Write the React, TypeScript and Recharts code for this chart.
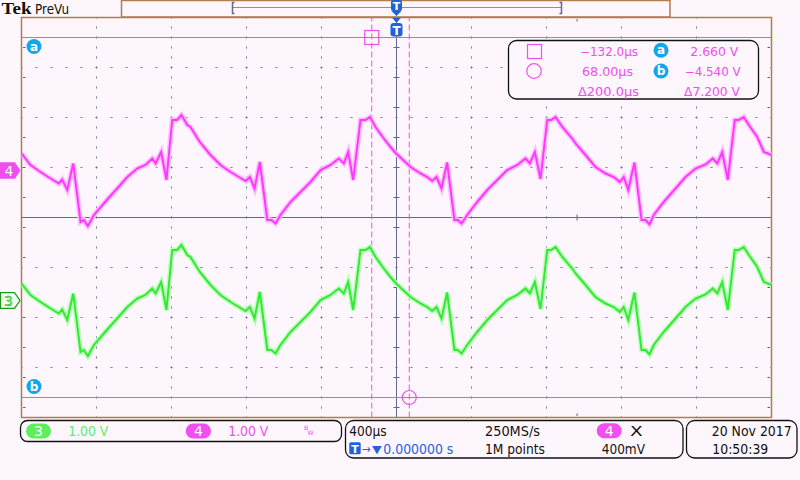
import React from "react";
import {
  LineChart,
  Line,
  XAxis,
  YAxis,
  CartesianGrid,
  ReferenceLine,
  ReferenceDot,
  ReferenceArea,
} from "recharts";

// sample times in µs from the trigger point
const timeUs = [
  -2000, -1952, -1899, -1845, -1801, -1783, -1756, -1724, -1685, -1668, -1646, -1614, -1545, -1490,
  -1436, -1383, -1339, -1303, -1285, -1255, -1227, -1196, -1170, -1147, -1116, -1099, -1049, -992,
  -939, -885, -841, -805, -782, -757, -729, -689, -668, -645, -619, -565, -512, -459, -405, -352,
  -308, -281, -258, -231, -192, -165, -142, -112, -68, -32, -5, 75, 128, 164, 190, 213, 240, 270,
  309, 327, 347, 377, 430, 484, 537, 590, 644, 688, 711, 738, 768, 804, 825, 848, 884, 937, 955,
  1008, 1061, 1115, 1159, 1191, 1212, 1236, 1269, 1307, 1328, 1349, 1372, 1425, 1488, 1541, 1595,
  1648, 1687, 1711, 1737, 1767, 1804, 1825, 1852, 1879, 1924, 1959, 2000,
];

// channel 4 (magenta), volts
const ch4Volts = [
  0.34, 0.11, -0.03, -0.16, -0.26, -0.18, -0.39, 0.14, -1.03, -0.99, -1.11, -0.89, -0.59, -0.36,
  -0.13, 0.04, 0.11, 0.24, 0.14, 0.37, -0.19, 1.01, 1.01, 1.11, 0.91, 0.87, 0.57, 0.31,
  0.11, -0.03, -0.13, -0.21, -0.13, -0.36, 0.17, -0.99, -0.99, -1.06, -0.89, -0.63, -0.43, -0.23, 0.01, 0.11,
  0.24, 0.14, 0.37, -0.19, 1.01, 1.01, 1.07, 0.87, 0.64, 0.47, 0.35, 0.07, -0.06, -0.13, -0.21, -0.13, -0.36, 0.16,
  -0.99, -0.99, -1.06, -0.89, -0.63, -0.39, -0.19, 0.01, 0.11, 0.24, 0.14, 0.37, -0.17, 1.01, 1.01, 1.07, 0.87, 0.64, 0.54,
  0.31, 0.07, -0.06, -0.13, -0.23, -0.13, -0.39, 0.16, -0.99, -0.99, -1.08, -0.89, -0.63, -0.36, -0.13, 0.04,
  0.12, 0.24, 0.14, 0.37, -0.19, 1.01, 1.01, 1.07, 0.91, 0.67, 0.37, 0.31,
];

// channel 3 (green), volts
const ch3Volts = [
  0.34, 0.11, -0.03, -0.16, -0.26, -0.18, -0.39, 0.14, -1.03, -0.99, -1.11, -0.89, -0.59, -0.36,
  -0.13, 0.04, 0.11, 0.24, 0.14, 0.37, -0.19, 1.01, 1.01, 1.11, 0.91, 0.87, 0.57, 0.31,
  0.11, -0.03, -0.13, -0.21, -0.13, -0.36, 0.17, -0.99, -0.99, -1.06, -0.89, -0.63, -0.43, -0.23, 0.01, 0.11,
  0.24, 0.14, 0.37, -0.19, 1.01, 1.01, 1.07, 0.87, 0.64, 0.47, 0.35, 0.07, -0.06, -0.13, -0.21, -0.13, -0.36, 0.16,
  -0.99, -0.99, -1.06, -0.89, -0.63, -0.39, -0.19, 0.01, 0.11, 0.24, 0.14, 0.37, -0.17, 1.01, 1.01, 1.07, 0.87, 0.64, 0.54,
  0.31, 0.07, -0.06, -0.13, -0.23, -0.13, -0.39, 0.16, -0.99, -0.99, -1.08, -0.89, -0.63, -0.36, -0.13, 0.04,
  0.12, 0.24, 0.14, 0.37, -0.19, 1.01, 1.01, 1.07, 0.91, 0.67, 0.37, 0.31,
];

// graticule: 10 x 8 divisions, 5 minor steps each
const timeDivTicks = [-2000, -1600, -1200, -800, -400, 0, 400, 800, 1200, 1600, 2000];
const voltDivTicks = [-4, -3, -2, -1, 0, 1, 2, 3, 4];
const timeMinorTicks = Array.from({ length: 51 }, (_, i) => -2000 + i * 80);
const voltMinorTicks = Array.from({ length: 41 }, (_, i) => Math.round((-4 + i * 0.2) * 10) / 10);

// ground markers, divisions above screen centre (1 V/div on both)
const ch4Offset = 0.94;
const ch3Offset = -1.66;

const cursorTimes = [-132, 68];
const cursorVolts = [2.66, -4.54];

const BG = "#fdf7fd";
const BORDER = "#b17d4c";
const GRID = "#58628a";
const CENTER = "#5f6a8c";
const MAG = "#f04ef0";
const MAG_TRACE = "#ff38ff";
const MAG_HALO = "#ffbcff";
const GREEN_TRACE = "#34e834";
const GREEN_HALO = "#baffba";
const GREEN_TXT = "#5cf05c";
const CYAN = "#13a6ea";
const BLUE = "#1f63d8";
const FONT = "'DejaVu Sans', 'Liberation Sans', sans-serif";

const data = timeUs.map((t, i) => ({ t, ch4: ch4Volts[i], ch3: ch3Volts[i] }));

function Txt({ x, y, w, size = 13, fill = "#111", anchor = "start", weight = 400, family = FONT, children }: any) {
  return (
    <text
      x={x}
      y={y}
      fontSize={size}
      fill={fill}
      textAnchor={anchor}
      fontWeight={weight}
      fontFamily={family}
      textLength={w}
      lengthAdjust="spacingAndGlyphs"
    >
      {children}
    </text>
  );
}

function Pill({ x, y, w, h, fill, label }: any) {
  return (
    <g>
      <rect x={x} y={y} width={w} height={h} rx={h / 2} fill={fill} />
      <text x={x + w / 2} y={y + h - 2.5} fontSize={14} fill="#fff" textAnchor="middle" fontFamily={FONT}>
        {label}
      </text>
    </g>
  );
}

function Badge({ cx, cy, label }: any) {
  return (
    <g>
      <circle cx={cx} cy={cy} r={7.5} fill={CYAN} />
      <text x={cx} y={cy + 4} fontSize={12} fontWeight={700} fill="#fff" textAnchor="middle" fontFamily={FONT}>
        {label}
      </text>
    </g>
  );
}

function TMark({ x, y }: any) {
  return (
    <g>
      <path d={`M${x - 5} ${y} L${x + 5} ${y} L${x} ${y + 6} Z`} fill={BLUE} />
      <rect x={x - 6} y={y + 6} width={12} height={13.5} rx={3} fill={BLUE} />
      <text x={x} y={y + 17.5} fontSize={12} fontWeight={700} fill="#fff" textAnchor="middle" fontFamily={FONT}>
        T
      </text>
    </g>
  );
}

function Overlay() {
  return (
    <svg width={800} height={480} style={{ position: "absolute", left: 0, top: 0, pointerEvents: "none" }}>
      {/* top bar */}
      <Txt x={1.5} y={14} w={30} size={17} weight={700} family="'Liberation Serif', serif">Tek</Txt>
      <Txt x={35} y={14} w={34} size={14}>PreVu</Txt>
      <rect x={121.5} y={0.5} width={548.5} height={16.5} fill="none" stroke={BORDER} strokeWidth={1.5} />
      <line x1={233} x2={561} y1={7.5} y2={7.5} stroke={MAG} />
      <path d="M234.5 2.5 H232.5 V13.5 H234.5" fill="none" stroke={CENTER} strokeWidth={1.5} />
      <path d="M559.5 2.5 H561.5 V13.5 H559.5" fill="none" stroke={CENTER} strokeWidth={1.5} />
      <rect x={391} y={0} width={11} height={11} rx={2} fill={BLUE} />
      <text x={396.5} y={10} fontSize={11} fontWeight={700} fill="#fff" textAnchor="middle" fontFamily={FONT}>T</text>
      <path d="M391.5 11 L401.5 11 L396.5 16 Z" fill={BLUE} />

      {/* cursor readout */}
      <rect x={508.5} y={40.5} width={250} height={58.5} rx={8} fill={BG} stroke="#111" strokeWidth={1.3} />
      <rect x={527.5} y={44.5} width={14} height={14} fill="none" stroke={MAG} strokeWidth={1.2} />
      <circle cx={534} cy={71} r={7.3} fill="none" stroke={MAG} strokeWidth={1.2} />
      <Txt x={638} y={55.7} w={58} size={12} fill={MAG} anchor="end">−132.0µs</Txt>
      <Txt x={633} y={75.7} w={51} size={12} fill={MAG} anchor="end">68.00µs</Txt>
      <Txt x={639} y={95.7} w={61} size={12} fill={MAG} anchor="end">Δ200.0µs</Txt>
      <Badge cx={661} cy={50.3} label="a" />
      <Badge cx={661} cy={71} label="b" />
      <Txt x={738.3} y={55.7} w={48} size={12} fill={MAG} anchor="end">2.660 V</Txt>
      <Txt x={740.7} y={75.7} w={56} size={12} fill={MAG} anchor="end">−4.540 V</Txt>
      <Txt x={740} y={95.7} w={56} size={12} fill={MAG} anchor="end">Δ7.200 V</Txt>

      {/* vertical settings */}
      <rect x={20.5} y={420.5} width={321} height={21} rx={7} fill="none" stroke="#111" strokeWidth={1.3} />
      <Pill x={26} y={423.5} w={25} h={15} fill={GREEN_TXT} label="3" />
      <Txt x={68.3} y={436} w={40} size={14} fill={GREEN_TXT}>1.00 V</Txt>
      <Pill x={185.7} y={423.5} w={25.3} h={15} fill={MAG} label="4" />
      <Txt x={228.3} y={436} w={40} size={14} fill={MAG}>1.00 V</Txt>
      <Txt x={304} y={429.5} w={4.5} size={6} fill={MAG}>B</Txt>
      <Txt x={307.5} y={435} w={6} size={6} fill={MAG}>W</Txt>

      {/* horizontal / trigger */}
      <rect x={345.5} y={420.5} width={337.5} height={37.5} rx={8} fill="none" stroke="#111" strokeWidth={1.3} />
      <Txt x={349.3} y={435.5} w={37.3} size={14}>400µs</Txt>
      <rect x={349.3} y={442.3} width={11.4} height={12} rx={1.5} fill={BLUE} />
      <text x={355} y={452.5} fontSize={11} fontWeight={700} fill="#fff" textAnchor="middle" fontFamily={FONT}>T</text>
      <Txt x={361.5} y={452.5} w={9} size={12} fill={BLUE}>→</Txt>
      <Txt x={372} y={452.5} w={9.7} size={11} fill={BLUE}>▼</Txt>
      <Txt x={383.3} y={453.5} w={70} size={14} fill={BLUE}>0.000000 s</Txt>
      <Txt x={485} y={435.5} w={55} size={14}>250MS/s</Txt>
      <Txt x={485} y={453.5} w={60} size={14}>1M points</Txt>
      <Pill x={596.7} y={423.3} w={25} h={15} fill={MAG} label="4" />
      <Txt x={630} y={435.5} w={12.7} size={14}>X</Txt>
      <Txt x={601.7} y={453.5} w={43.3} size={14}>400mV</Txt>

      {/* date / time */}
      <rect x={686.5} y={420.5} width={110.5} height={37.5} rx={8} fill="none" stroke="#111" strokeWidth={1.3} />
      <Txt x={711.7} y={435.5} w={80} size={13.5}>20 Nov 2017</Txt>
      <Txt x={712.3} y={453.5} w={56} size={14}>10:50:39</Txt>
    </svg>
  );
}

const ch4Tag = (p: any) => (
  <g>
    <path
      d={`M${p.cx - 21.5} ${p.cy - 8.3} H${p.cx - 6.5} L${p.cx - 1} ${p.cy} L${p.cx - 6.5} ${p.cy + 8.3} H${p.cx - 21.5} Z`}
      fill={MAG}
    />
    <text x={p.cx - 12.5} y={p.cy + 5} fontSize={14} fill="#fff" textAnchor="middle" fontFamily={FONT}>4</text>
  </g>
);

const ch3Tag = (p: any) => (
  <g>
    <path
      d={`M${p.cx - 21} ${p.cy - 7.8} H${p.cx - 7} L${p.cx - 1.5} ${p.cy} L${p.cx - 7} ${p.cy + 7.8} H${p.cx - 21} Z`}
      fill="#f2fff2"
      stroke="#1e9a1e"
      strokeWidth={1.3}
    />
    <text x={p.cx - 13} y={p.cy + 5} fontSize={14} fill={GREEN_TXT} stroke="#1e9a1e" strokeWidth={0.4} textAnchor="middle" fontFamily={FONT}>3</text>
  </g>
);

export default function App() {
  return (
    <div style={{ position: "fixed", left: 0, top: 0, width: 800, height: 480, background: BG, overflow: "hidden" }}>
      <LineChart width={800} height={480} data={data} margin={{ top: 17.5, right: 28.5, bottom: 62.5, left: 21.5 }}>
        <XAxis dataKey="t" type="number" domain={[-2000, 2000]} ticks={timeDivTicks} allowDataOverflow hide />
        <XAxis xAxisId="minor" type="number" domain={[-2000, 2000]} ticks={timeMinorTicks} allowDataOverflow hide />
        <YAxis type="number" domain={[-4, 4]} ticks={voltDivTicks} allowDataOverflow hide />
        <YAxis yAxisId="minor" type="number" domain={[-4, 4]} ticks={voltMinorTicks} allowDataOverflow hide />
        <YAxis yAxisId="ch4" type="number" domain={[-4 - ch4Offset, 4 - ch4Offset]} allowDataOverflow hide />
        <YAxis yAxisId="ch3" type="number" domain={[-4 - ch3Offset, 4 - ch3Offset]} allowDataOverflow hide />

        {/* dotted divisions */}
        <CartesianGrid horizontal={false} stroke={GRID} strokeDasharray="1 8 1 0" />
        <CartesianGrid vertical={false} stroke={GRID} strokeDasharray="1 13 1 0" />
        {/* minor ticks on the centre lines and inside the frame */}
        <CartesianGrid xAxisId="minor" yAxisId="minor" horizontal={false} stroke={GRID} strokeDasharray="0 197 6 1000" />
        <CartesianGrid xAxisId="minor" yAxisId="minor" vertical={false} stroke={GRID} strokeDasharray="0 372 6 1000" />
        <CartesianGrid xAxisId="minor" yAxisId="minor" horizontal={false} stroke={GRID} strokeDasharray="0 1.5 2.5 392 2.5 1000" />
        <CartesianGrid xAxisId="minor" yAxisId="minor" vertical={false} stroke={GRID} strokeDasharray="0 1.5 2.5 742 2.5 1000" />

        <ReferenceLine x={0} stroke={CENTER} />
        <ReferenceLine y={0} stroke={CENTER} />
        <ReferenceArea x1={-2000} x2={2000} y1={-4} y2={4} fill="none" stroke={BORDER} strokeWidth={1.5} />

        {cursorVolts.map((v) => (
          <ReferenceLine key={"h" + v} yAxisId="ch4" y={v} stroke={MAG} />
        ))}
        {cursorTimes.map((t) => (
          <ReferenceLine key={"v" + t} x={t} stroke={MAG} strokeDasharray="6 3" />
        ))}

        <Line yAxisId="ch3" dataKey="ch3" stroke={GREEN_HALO} strokeWidth={5} dot={false} isAnimationActive={false} />
        <Line yAxisId="ch3" dataKey="ch3" stroke={GREEN_TRACE} strokeWidth={2} dot={false} isAnimationActive={false} />
        <Line yAxisId="ch4" dataKey="ch4" stroke={MAG_HALO} strokeWidth={5} dot={false} isAnimationActive={false} />
        <Line yAxisId="ch4" dataKey="ch4" stroke={MAG_TRACE} strokeWidth={2} dot={false} isAnimationActive={false} />

        <ReferenceDot
          yAxisId="ch4"
          x={cursorTimes[0]}
          y={cursorVolts[0]}
          shape={(p: any) => <rect x={p.cx - 7} y={p.cy - 7} width={14} height={14} fill="none" stroke={MAG} strokeWidth={1.2} />}
        />
        <ReferenceDot
          yAxisId="ch4"
          x={cursorTimes[1]}
          y={cursorVolts[1]}
          shape={(p: any) => <circle cx={p.cx} cy={p.cy} r={7} fill="none" stroke={MAG} strokeWidth={1.2} />}
        />
        <ReferenceDot yAxisId="ch4" x={-2000} y={cursorVolts[0]} shape={(p: any) => <Badge cx={p.cx + 12.5} cy={p.cy + 9} label="a" />} />
        <ReferenceDot yAxisId="ch4" x={-2000} y={cursorVolts[1]} shape={(p: any) => <Badge cx={p.cx + 12.5} cy={p.cy - 11} label="b" />} />
        <ReferenceDot yAxisId="ch4" x={-2000} y={0} shape={ch4Tag} />
        <ReferenceDot yAxisId="ch3" x={-2000} y={0} shape={ch3Tag} />
        <ReferenceDot x={0} y={4} shape={(p: any) => <TMark x={p.cx} y={p.cy - 0.5} />} />
      </LineChart>
      <Overlay />
    </div>
  );
}
